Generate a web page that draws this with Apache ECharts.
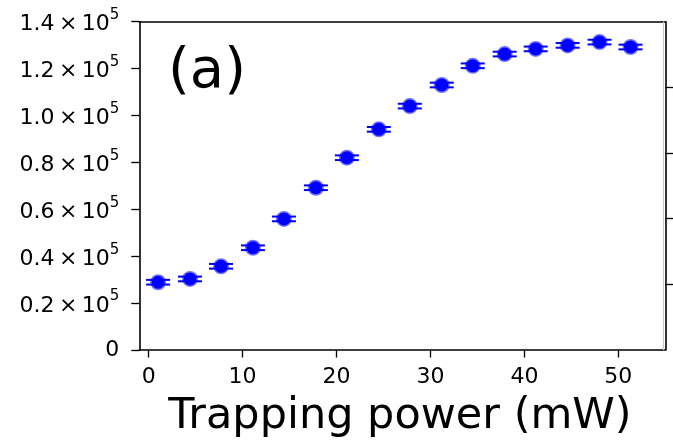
<!DOCTYPE html>
<html>
<head>
<meta charset="utf-8">
<script src="https://cdn.jsdelivr.net/npm/echarts@6/dist/echarts.min.js"></script>
<style>
html,body{margin:0;padding:0;background:#fff;}
#chart{width:673px;height:441px;}
</style>
</head>
<body>
<div id="chart"></div>
<script>
// ---- data ----
const powerMW = [1.0, 4.4, 7.7, 11.1, 14.4, 17.8, 21.1, 24.5, 27.8, 31.2, 34.5, 37.9, 41.2, 44.6, 48.0, 51.3];
const counts  = [28900, 30300, 35700, 43600, 55900, 69200, 82000, 94100, 104000, 113000, 121200, 126200, 128400, 129900, 131300, 129200];
const countErr = [1000, 1000, 1000, 1000, 1000, 1000, 1000, 1000, 1000, 1000, 1000, 1000, 1000, 1000, 1000, 1000];
const xTickValues = [0, 10, 20, 30, 40, 50];
const yTickMantissas = ['0', '0.2', '0.4', '0.6', '0.8', '1.0', '1.2', '1.4'];
const xTitle = 'Trapping power (mW)';
const panelLabel = '(a)';

const X_MIN = -1, X_MAX = 55;
const Y_MIN = 0, Y_MAX = 140000, Y_STEP = 20000;

const FONT = 'DejaVu Sans';
const chart = echarts.init(document.getElementById('chart'), null, {renderer: 'canvas'});

const pts = powerMW.map((x, i) => [x, counts[i]]);
const errData = powerMW.map((x, i) => [x, counts[i], countErr[i]]);

const option = {
  animation: false,
  backgroundColor: '#fff',
  grid: {left: 139.3, right: 7.7, top: 21.7, bottom: 91},
  xAxis: [{
    type: 'value', min: X_MIN, max: X_MAX,
    axisLine: {show: true, onZero: false, lineStyle: {color: '#000', width: 1.6}},
    axisTick: {show: true, customValues: xTickValues, length: 7.5, lineStyle: {color: '#000', width: 1.3}},
    axisLabel: {customValues: xTickValues, fontSize: 22, fontFamily: FONT, color: '#000', margin: 16},
    splitLine: {show: false}
  }, {
    type: 'value', position: 'top', min: X_MIN, max: X_MAX,
    axisLine: {show: true, onZero: false, lineStyle: {color: '#000', width: 1.6}},
    axisTick: {show: false}, axisLabel: {show: false}, splitLine: {show: false}
  }],
  yAxis: [{
    type: 'value', min: Y_MIN, max: Y_MAX, interval: Y_STEP,
    axisLine: {show: true, onZero: false, lineStyle: {color: '#000', width: 1.6}},
    axisTick: {show: true, length: 8, lineStyle: {color: '#000', width: 1.3}},
    axisLabel: {
      margin: 20, fontSize: 22, fontFamily: FONT, color: '#000',
      formatter: function (v) {
        const idx = Math.round((v - Y_MIN) / Y_STEP);
        const m = yTickMantissas[idx];
        if (m === '0') return '0';
        return '{m|' + m + '\u2009\u00d7\u200910}{s|5}';
      },
      rich: {
        m: {fontSize: 22, fontFamily: FONT, color: '#000', padding: [6, 0, 0, 0], verticalAlign: 'bottom'},
        s: {fontSize: 15, fontFamily: FONT, color: '#000', verticalAlign: 'top'}
      }
    },
    splitLine: {show: false}
  }, {
    type: 'value', position: 'right', min: 0, max: 5, interval: 1,
    axisLine: {show: true, onZero: false, lineStyle: {color: '#000', width: 1.6}},
    axisTick: {show: true, customValues: [1, 2, 3, 4], length: 8, lineStyle: {color: '#000', width: 1.3}},
    axisLabel: {show: false}, splitLine: {show: false}
  }],
  graphic: [{
    type: 'text', x: 168, y: 72,
    style: {text: panelLabel, font: '56px "DejaVu Sans"', fill: '#000', textAlign: 'left', textVerticalAlign: 'middle'}
  }, {
    type: 'text', x: 400, y: 417,
    style: {text: xTitle, font: '43px "DejaVu Sans"', fill: '#000', textAlign: 'center', textVerticalAlign: 'middle'}
  }],
  series: [{
    type: 'custom',
    data: errData,
    z: 2,
    renderItem: function (params, api) {
      const x = api.value(0), y = api.value(1), e = api.value(2);
      const top = api.coord([x, y + e]);
      const bot = api.coord([x, y - e]);
      const hw = 12;
      const st = {stroke: '#0000ff', lineWidth: 2};
      return {
        type: 'group',
        children: [
          {type: 'line', shape: {x1: top[0], y1: top[1], x2: bot[0], y2: bot[1]}, style: st},
          {type: 'line', shape: {x1: top[0] - hw, y1: top[1], x2: top[0] + hw, y2: top[1]}, style: st},
          {type: 'line', shape: {x1: bot[0] - hw, y1: bot[1], x2: bot[0] + hw, y2: bot[1]}, style: st}
        ]
      };
    }
  }, {
    type: 'scatter',
    data: pts,
    z: 3,
    symbol: 'circle',
    symbolSize: 13,
    itemStyle: {color: '#0000ff', borderColor: 'rgba(0,0,255,0.55)', borderWidth: 3, opacity: 1},
    markLine: {
      silent: true, symbol: 'none', label: {show: false},
      lineStyle: {color: '#c8c8c8', width: 1, type: 'solid'},
      data: [{xAxis: 54.8}]
    }
  }]
};
chart.setOption(option);
</script>
</body>
</html>
